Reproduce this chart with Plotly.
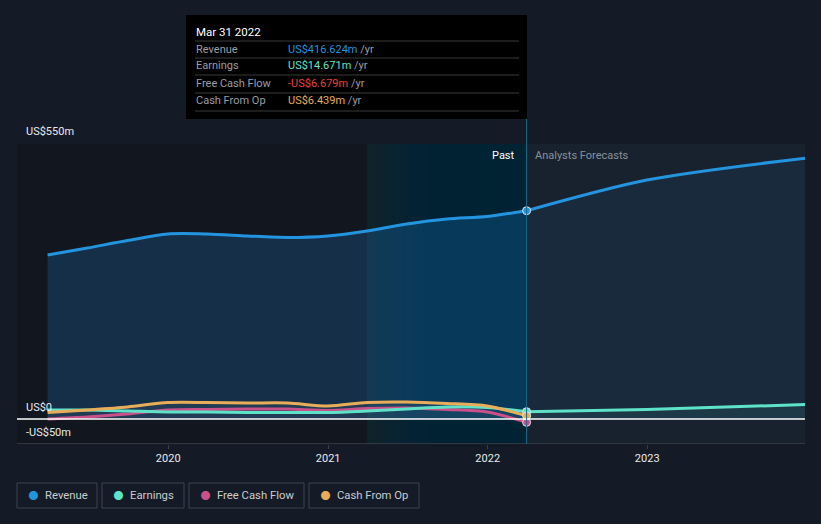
import plotly.graph_objects as go
import datetime as _dt

W, H = 821, 524

# ---------------- data ----------------
past_dates = ["2019-03-31", "2019-06-30", "2019-09-30", "2019-12-31",
              "2020-03-31", "2020-06-30", "2020-09-30", "2020-12-31",
              "2021-03-31", "2021-06-30", "2021-09-30", "2021-12-31",
              "2022-03-31"]
revenue_past = [328, 342, 357, 370, 370, 366, 363, 366, 376, 390, 400, 405, 416.624]
earnings_past = [18, 18, 16, 14, 14, 13, 13, 13, 16, 20, 24, 23, 14.671]
fcf_past = [0, 4, 10, 18, 19, 20, 20, 17, 21, 22, 19, 14, -6.679]
cfo_past = [13, 18, 24, 33, 33, 32, 32, 26, 33, 34, 31, 26, 6.439]

fc_dates = ["2022-03-31", "2022-12-31", "2023-12-31"]
revenue_fc = [416.624, 478, 522]
earnings_fc = [14.671, 19, 29]

x_ticks = ["2020-01-01", "2021-01-01", "2022-01-01", "2023-01-01"]
x_tick_text = ["2020", "2021", "2022", "2023"]

C_REV = "#2394df"
C_EARN = "#5ee3c9"
C_FCF = "#c9508a"
C_CFO = "#e9ac58"

def px(x):
    return x / W

def py(y):
    return 1 - y / H

fig = go.Figure()

fig.add_trace(go.Scatter(x=past_dates, y=cfo_past, mode="lines", line=dict(width=0, shape="spline"),
                         fill="tozeroy", fillcolor="rgba(150,150,150,0.12)", hoverinfo="skip"))

fig.add_trace(go.Scatter(x=past_dates, y=revenue_past, mode="lines",
                         line=dict(color=C_REV, width=3, shape="spline", smoothing=0.8),
                         fill="tozeroy", fillcolor="rgba(33,150,243,0.20)", hoverinfo="skip"))
fig.add_trace(go.Scatter(x=fc_dates, y=revenue_fc, mode="lines",
                         line=dict(color=C_REV, width=3, shape="spline", smoothing=0.8),
                         fill="tozeroy", fillcolor="rgba(33,150,243,0.07)", hoverinfo="skip"))

fig.add_trace(go.Scatter(x=past_dates, y=fcf_past, mode="lines",
                         line=dict(color=C_FCF, width=3, shape="spline", smoothing=0.8), hoverinfo="skip"))
fig.add_trace(go.Scatter(x=past_dates, y=earnings_past, mode="lines",
                         line=dict(color=C_EARN, width=3, shape="spline", smoothing=0.8), hoverinfo="skip"))
fig.add_trace(go.Scatter(x=past_dates, y=cfo_past, mode="lines",
                         line=dict(color=C_CFO, width=3, shape="spline", smoothing=0.8), hoverinfo="skip"))
fig.add_trace(go.Scatter(x=fc_dates, y=earnings_fc, mode="lines",
                         line=dict(color=C_EARN, width=3, shape="spline", smoothing=0.8),
                         fill="tozeroy", fillcolor="rgba(94,227,201,0.08)", hoverinfo="skip"))

for vals, col in [(revenue_past, C_REV), (earnings_past, C_EARN), (fcf_past, C_FCF), (cfo_past, C_CFO)]:
    fig.add_trace(go.Scatter(x=[past_dates[-1]], y=[vals[-1]], mode="markers",
                             marker=dict(color=col, size=8, line=dict(color="#dfe6ee", width=1)),
                             hoverinfo="skip"))

shapes = []
shapes.append(dict(type="rect", xref="x", yref="y", x0="2019-01-20", x1="2021-03-31", y0=-50, y1=550,
                   fillcolor="#12161f", line=dict(width=0), layer="below"))
shapes.append(dict(type="rect", xref="x", yref="y", x0="2022-03-31", x1="2023-12-28", y0=-50, y1=550,
                   fillcolor="#18222f", line=dict(width=0), layer="below"))
# gradient highlight of the last year: stacked translucent overlays
d0 = _dt.date(2021, 3, 31)
d1 = _dt.date(2022, 3, 31)
shapes.append(dict(type="rect", xref="x", yref="y", x0=d0.isoformat(), x1=d1.isoformat(), y0=-50, y1=550,
                   fillcolor="#0f232a", line=dict(width=0), layer="below"))
N = 40
span = (d1 - d0).days
for i in range(1, N):
    a = d0 + _dt.timedelta(days=span * i / N)
    shapes.append(dict(type="rect", xref="x", yref="y", x0=a.isoformat(), x1=d1.isoformat(), y0=-50, y1=550,
                       fillcolor="rgba(12,62,78,0.04)", line=dict(width=0), layer="below"))

for v, c in [(200, "rgba(255,255,255,0.10)"), (400, "rgba(255,255,255,0.10)"), (550, "#3c4049")]:
    shapes.append(dict(type="line", xref="paper", yref="y", x0=px(17), x1=px(805), y0=v, y1=v,
                       line=dict(color=c, width=1), layer="below"))
shapes.append(dict(type="line", xref="paper", yref="y", x0=px(17), x1=px(805), y0=0, y1=0,
                   line=dict(color="#ffffff", width=1.3)))
shapes.append(dict(type="line", xref="paper", yref="y", x0=px(17), x1=px(805), y0=-50, y1=-50,
                   line=dict(color="#3c4049", width=1.5)))
shapes.append(dict(type="line", xref="x", yref="paper", x0="2022-03-31", x1="2022-03-31",
                   y0=py(444), y1=py(119), line=dict(color="#1d6a85", width=1)))
shapes.append(dict(type="rect", xref="paper", yref="paper", x0=px(186), x1=px(527), y0=py(119), y1=py(15),
                   fillcolor="#000000", line=dict(width=0)))
for yy in [41, 58, 75, 93, 111]:
    shapes.append(dict(type="line", xref="paper", yref="paper", x0=px(195), x1=px(519), y0=py(yy), y1=py(yy),
                       line=dict(color="#3a3a3a", width=1)))

legend_items = [("Revenue", C_REV, 17, 97), ("Earnings", C_EARN, 102, 184),
                ("Free Cash Flow", C_FCF, 189, 304), ("Cash From Op", C_CFO, 309, 419)]
for name, col, x0, x1 in legend_items:
    shapes.append(dict(type="rect", xref="paper", yref="paper", x0=px(x0), x1=px(x1), y0=py(508), y1=py(483),
                       fillcolor="rgba(0,0,0,0)", line=dict(color="#3c4350", width=1)))

ann = []
FONT = "Roboto, Inter, 'Noto Sans', sans-serif"
def add_text(x, y, text, color="#ffffff", size=11, anchor="left"):
    ann.append(dict(xref="paper", yref="paper", x=px(x), y=py(y), text=text, showarrow=False,
                    xanchor=anchor, yanchor="middle", xshift=-1 if anchor == "left" else 0,
                    font=dict(color=color, size=size, family=FONT)))

add_text(25, 131, "US$550m", "#e8eaed", 11)
add_text(25, 407, "US$0", "#e8eaed", 11)
add_text(25, 432, "-US$50m", "#e8eaed", 11)

add_text(517, 156, "Past", "#ffffff", 11, "right")
add_text(534, 156, "Analysts Forecasts", "#8a9099", 11)

add_text(195, 32, "Mar 31 2022", "#ffffff", 11.5)
rows = [("Revenue", "US$416.624m", C_REV, 49), ("Earnings", "US$14.671m", C_EARN, 66),
        ("Free Cash Flow", "-US$6.679m", "#e8443a", 84), ("Cash From Op", "US$6.439m", C_CFO, 101)]
for lab, val, col, yy in rows:
    add_text(195, yy, lab, "#9a9ea5", 11)
    add_text(287, yy, f"<span style='color:{col}'>{val}</span> /yr", "#9a9ea5", 11)

for name, col, x0, x1 in legend_items:
    add_text(x0 + 10, 495.5, "●", col, 12)
    add_text(x0 + 27, 495.5, name, "#c9ccd1", 11.3)

fig.update_layout(
    width=W, height=H,
    margin=dict(l=0, r=0, t=0, b=0),
    paper_bgcolor="#151b26",
    plot_bgcolor="rgba(0,0,0,0)",
    showlegend=False,
    shapes=shapes,
    annotations=ann,
    xaxis=dict(domain=[px(17), px(805)], range=["2019-01-20", "2023-12-28"], type="date",
               tickvals=x_ticks, ticktext=x_tick_text, showgrid=False, zeroline=False,
               ticks="outside", ticklen=4, tickcolor="#3c4049",
               tickfont=dict(color="#e8eaed", size=11, family=FONT), fixedrange=True),
    yaxis=dict(domain=[py(444), py(144)], range=[-50, 550], showgrid=False, zeroline=False,
               showticklabels=False, fixedrange=True),
)

fig.write_html("out.html", config={"displayModeBar": False},
               post_script="document.body.style.margin='0';document.body.style.background='#151b26';document.body.style.overflow='hidden';")
